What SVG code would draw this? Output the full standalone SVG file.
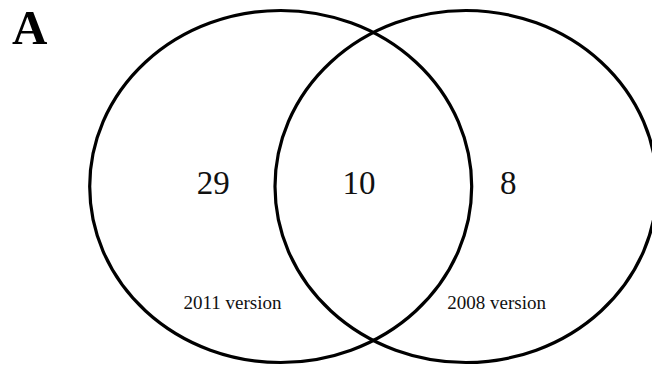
<svg xmlns="http://www.w3.org/2000/svg" width="652" height="367" viewBox="0 0 652 367">
<style>
.set{fill:none;stroke:#000;stroke-width:3.2}
.num{font-family:"Liberation Serif","Times New Roman",serif;font-size:33px;fill:#111;text-anchor:middle}
.lbl{font-family:"Liberation Serif","Times New Roman",serif;font-size:19px;fill:#111;text-anchor:middle}
.title{font-family:"Liberation Serif","Times New Roman",serif;font-size:49px;font-weight:bold;fill:#000}
</style>
<rect width="652" height="367" fill="#fff"/>
<text class="title" x="12" y="43.5">A</text>
<g id="set-2011">
<ellipse class="set" cx="280.7" cy="186.5" rx="191" ry="176"/>
<text class="num" x="213.3" y="194">29</text>
<text class="lbl" x="232.5" y="309.3">2011 version</text>
</g>
<g id="set-2008">
<ellipse class="set" cx="466" cy="186.5" rx="191" ry="176"/>
<text class="num" x="508.3" y="194">8</text>
<text class="lbl" x="496.7" y="309.3">2008 version</text>
</g>
<g id="overlap">
<text class="num" x="359" y="194">10</text>
</g>
<g id="connectors"/>
</svg>
